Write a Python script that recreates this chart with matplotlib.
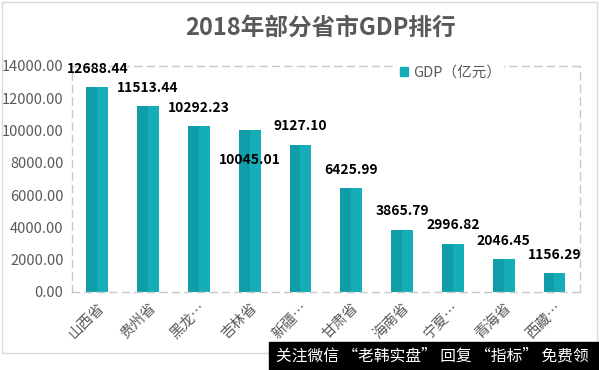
#import libraries
import numpy as np
import matplotlib.pyplot as plt
from matplotlib.patches import Rectangle

plt.rcParams['font.family'] = ['Noto Sans CJK SC', 'DejaVu Sans']

#data
provinces = ['山西省', '贵州省', '黑龙…', '吉林省', '新疆…',
             '甘肃省', '海南省', '宁夏…', '青海省', '西藏…']
gdp = [12688.44, 11513.44, 10292.23, 10045.01, 9127.10,
       6425.99, 3865.79, 2996.82, 2046.45, 1156.29]
yticks = [0, 2000, 4000, 6000, 8000, 10000, 12000, 14000]

bar_color = '#15adb7'
grey = '#595959'

#figure and axis
fig = plt.figure(figsize=(5.99, 3.70), dpi=100)
ax = fig.add_axes([0.120, 0.211, 0.848, 0.611])

x = np.arange(len(provinces))
bars = ax.bar(x, gdp, width=0.43, color=bar_color, zorder=2,
              label='GDP（亿元）')
#darker left half for the shaded look of the bars
ax.bar(x - 0.43 / 4, gdp, width=0.43 / 2, color='#0f9ea8', zorder=2)

ax.set_xlim(-0.5, len(provinces) - 0.5)
ax.set_ylim(0, 14000)
ax.set_yticks(yticks)
ax.set_yticklabels(['%.2f' % v for v in yticks], color=grey, fontsize=10.5)
ax.set_xticks(x)
ax.set_xticklabels(provinces, rotation=45, ha='right', rotation_mode='anchor',
                   color=grey, fontsize=10.5)
ax.tick_params(length=0, pad=6)

#dashed frame
for s in ax.spines.values():
    s.set_linestyle((0, (5, 4)))
    s.set_color('#c8c8c8')
    s.set_linewidth(1.0)

#data labels
for i, v in enumerate(gdp):
    off = -22 if provinces[i] == '吉林省' else 13
    ax.annotate('%.2f' % v, (x[i], v), xytext=(0, off),
                textcoords='offset points', ha='center', va='center',
                fontsize=10, fontweight='bold', color='black', zorder=3)

#legend
leg = ax.legend(loc='upper left', bbox_to_anchor=(0.625, 1.045), frameon=True,
                framealpha=1, edgecolor='none', fontsize=10.5,
                handlelength=0.6, handleheight=0.6, handletextpad=0.3,
                borderpad=0.2, labelcolor=grey)
leg.legend_handles[0].set_color(bar_color)

#title
fig.text(0.535, 0.925, '2018年部分省市GDP排行', ha='center', va='center',
         fontsize=17, fontweight='bold', color=grey)

#outer border
fig.patches.append(Rectangle((0.003, 0.045), 0.994, 0.95, transform=fig.transFigure,
                             fill=False, edgecolor='#d9d9d9', linewidth=1))

#watermark strip
fig.patches.append(Rectangle((269 / 599, 0), 1 - 269 / 599, 28 / 370,
                             transform=fig.transFigure, color='black', zorder=5))
fig.text(432 / 599, 14 / 370, '关注微信 “老韩实盘” 回复 “指标” 免费领',
         ha='center', va='center', color='white', fontsize=11.3, zorder=6)

plt.savefig('out.png', dpi=100)
